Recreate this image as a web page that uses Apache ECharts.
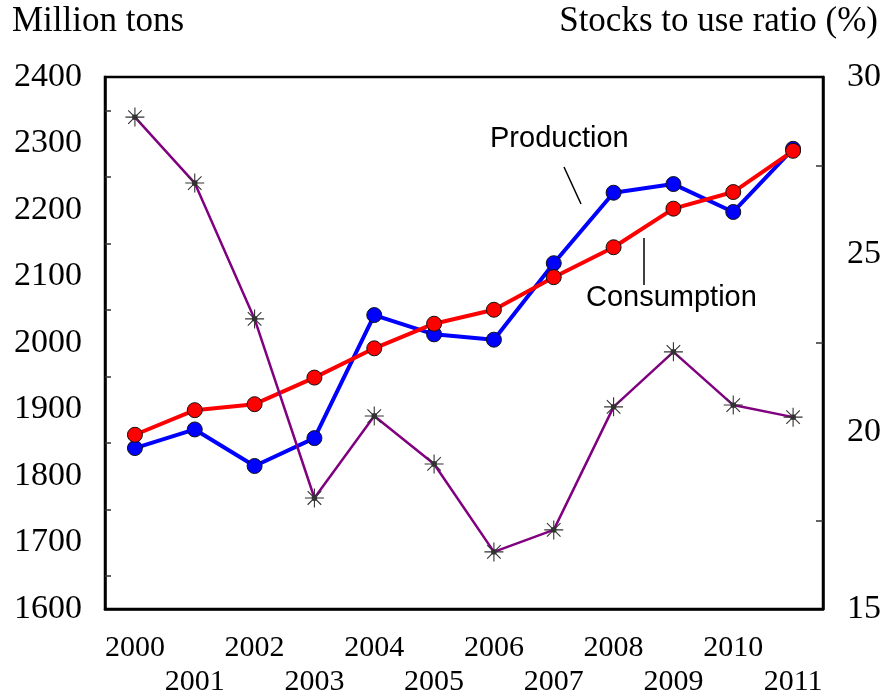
<!DOCTYPE html>
<html>
<head>
<meta charset="utf-8">
<script src="https://cdn.jsdelivr.net/npm/echarts@6/dist/echarts.min.js"></script>
<style>
  html, body { margin: 0; padding: 0; background: #fff; }
  #chart { width: 884px; height: 695px; }
</style>
</head>
<body>
<div id="chart"></div>
<script>
const years = ["2000", "2001", "2002", "2003", "2004", "2005", "2006", "2007", "2008", "2009", "2010", "2011"];
const production = [1842, 1870, 1815, 1857, 2042, 2013, 2005, 2120, 2226, 2239, 2197, 2292];
const consumption = [1862, 1899, 1908, 1948, 1992, 2029, 2050, 2099, 2144, 2202, 2227, 2289];
const stocksRatio = [28.87, 27.01, 23.18, 18.13, 20.44, 19.09, 16.61, 17.23, 20.7, 22.25, 20.75, 20.41];

const serif = "Liberation Serif";
const sans = "Liberation Sans";

const chart = echarts.init(document.getElementById("chart"));

// 8-spoke asterisk with a dot in the middle
const asterisk = "path://M0,-8L0,8M-8,0L8,0M-5.7,-5.7L5.7,5.7M-5.7,5.7L5.7,-5.7M-1.8,-1.8L1.8,-1.8L1.8,1.8L-1.8,1.8Z";

chart.setOption({
  animation: false,
  grid: {
    left: 105,
    right: 61,
    top: 77,
    bottom: 86,
    outerBoundsMode: "none",
    show: true,
    borderColor: "#000",
    borderWidth: 2.5,
  },
  xAxis: {
    type: "category",
    data: years,
    boundaryGap: true,
    axisLine: { lineStyle: { color: "#000", width: 2.5 } },
    axisTick: {
      inside: true,
      alignWithLabel: true,
      length: 10,
      lineStyle: { color: "#333", width: 1.5 },
    },
    axisLabel: {
      interval: 0,
      margin: 22,
      fontFamily: serif,
      fontSize: 30,
      color: "#000",
      lineHeight: 34,
      formatter: (v, i) => (i % 2 === 1 ? "\n" + v : v),
    },
    splitLine: { show: false },
  },
  yAxis: [
    {
      type: "value",
      min: 1600,
      max: 2400,
      interval: 100,
      axisLine: { show: true, lineStyle: { color: "#000", width: 2.5 } },
      axisTick: {
        inside: true,
        length: 13,
        lineStyle: { color: "#333", width: 1.5 },
      },
      minorTick: {
        show: true,
        splitNumber: 2,
        length: 6,
        lineStyle: { color: "#333", width: 1.5 },
      },
      axisLabel: {
        margin: 23,
        fontFamily: serif,
        fontSize: 34,
        color: "#000",
        formatter: (v) => String(v),
      },
      splitLine: { show: false },
    },
    {
      type: "value",
      min: 15,
      max: 30,
      interval: 5,
      position: "right",
      axisLine: { show: true, lineStyle: { color: "#000", width: 2.5 } },
      axisTick: {
        inside: true,
        length: 13,
        lineStyle: { color: "#333", width: 1.5 },
      },
      minorTick: {
        show: true,
        splitNumber: 2,
        length: 7,
        lineStyle: { color: "#333", width: 1.5 },
      },
      axisLabel: {
        margin: 24,
        fontFamily: serif,
        fontSize: 34,
        color: "#000",
        formatter: (v) => String(v),
      },
      splitLine: { show: false },
    },
  ],
  series: [
    {
      name: "Production",
      type: "line",
      data: production,
      yAxisIndex: 0,
      symbol: "circle",
      symbolSize: 15,
      z: 2,
      lineStyle: { color: "#0000ff", width: 4 },
      itemStyle: { color: "#0000ff", borderColor: "#111", borderWidth: 1 },
    },
    {
      name: "Consumption",
      type: "line",
      data: consumption,
      yAxisIndex: 0,
      symbol: "circle",
      symbolSize: 15,
      z: 3,
      lineStyle: { color: "#ff0000", width: 4 },
      itemStyle: { color: "#ff0000", borderColor: "#111", borderWidth: 1 },
    },
    {
      name: "Stocks to use ratio",
      type: "line",
      data: stocksRatio,
      yAxisIndex: 1,
      symbol: asterisk,
      symbolSize: 19,
      z: 4,
      lineStyle: { color: "#800080", width: 2.5 },
      itemStyle: { color: "#000", borderColor: "#333", borderWidth: 1.1 },
    },
  ],
  graphic: [
    {
      type: "text",
      left: 12,
      top: 4,
      style: { text: "Million tons", font: "35px " + serif, fill: "#000" },
    },
    {
      type: "text",
      right: 6,
      top: 4,
      style: { text: "Stocks to use ratio (%)", font: "35px " + serif, fill: "#000" },
    },
    {
      type: "text",
      x: 490,
      y: 139,
      style: { text: "Production", font: "29px " + sans, fill: "#000", verticalAlign: "middle" },
      z: 10,
    },
    {
      type: "line",
      shape: { x1: 564, y1: 167, x2: 581, y2: 204 },
      style: { stroke: "#000", lineWidth: 1.5 },
      z: 10,
    },
    {
      type: "text",
      x: 586,
      y: 298,
      style: { text: "Consumption", font: "29px " + sans, fill: "#000", verticalAlign: "middle" },
      z: 10,
    },
    {
      type: "line",
      shape: { x1: 644, y1: 238, x2: 644, y2: 285 },
      style: { stroke: "#000", lineWidth: 1.5 },
      z: 10,
    },
  ],
});
</script>
</body>
</html>
